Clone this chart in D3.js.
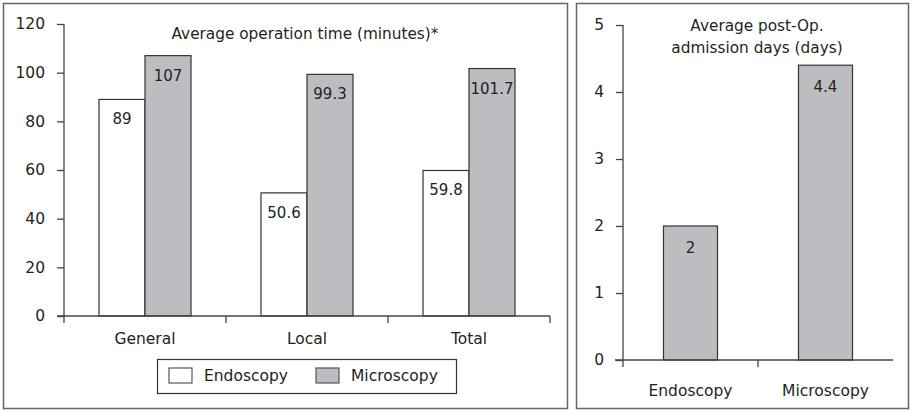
<!DOCTYPE html>
<html lang="en">
<head>
  <meta charset="UTF-8">
  <title>Operation time and admission days</title>
  <script src="https://d3js.org/d3.v7.min.js"></script>
  <style>
    body { margin: 0; background: #fff; }
    text { font-family: "DejaVu Sans", sans-serif; fill: #231f20; }
  </style>
</head>
<body>
<div id="chart"></div>
<script>
  // data
  const groups = ["General", "Local", "Total"];
  const series = ["Endoscopy", "Microscopy"];
  const endoTime = [89, 50.6, 59.8];
  const microTime = [107, 99.3, 101.7];
  const timeLabels = ["89", "50.6", "59.8"];
  const microTimeLabels = ["107", "99.3", "101.7"];
  const timeTicks = [0, 20, 40, 60, 80, 100, 120];

  const dayCats = ["Endoscopy", "Microscopy"];
  const days = [2, 4.4];
  const dayLabels = ["2", "4.4"];
  const dayTicks = [0, 1, 2, 3, 4, 5];

  const colors = { Endoscopy: "#ffffff", Microscopy: "#bcbdc0" };
  const stroke = "#333";

  const svg = d3.select("#chart").append("svg")
    .attr("width", 912).attr("height", 412);

  // panel frames
  svg.append("rect").attr("x", 3.5).attr("y", 3.5).attr("width", 564).attr("height", 405)
    .attr("fill", "none").attr("stroke", "#666").attr("stroke-width", 1.5);
  svg.append("rect").attr("x", 576.5).attr("y", 3.5).attr("width", 332).attr("height", 405)
    .attr("fill", "none").attr("stroke", "#666").attr("stroke-width", 1.5);

  function styleAxis(g) {
    g.selectAll(".domain").attr("stroke", "#444").attr("stroke-width", 1.3);
    g.selectAll(".tick line").attr("stroke", "#444").attr("stroke-width", 1.3);
    g.selectAll(".tick text").style("font-size", "15.5px").attr("fill", "#231f20");
  }

  // ---- left chart ----
  const left = svg.append("g");
  const x0 = d3.scaleBand().domain(groups).range([64, 550]).paddingInner(0).paddingOuter(0);
  const x1 = d3.scaleBand().domain(series).range([35, x0.bandwidth() - 35]);
  const y = d3.scaleLinear().domain([0, 120]).range([316, 24]);

  const rows = groups.map((g, i) => ({ g, i, vals: [endoTime[i], microTime[i]] }));

  const grp = left.selectAll(".grp").data(rows).enter().append("g")
    .attr("transform", d => `translate(${x0(d.g)},0)`);

  grp.selectAll("rect").data(d => series.map((s, j) => ({ s, v: d.vals[j], i: d.i })))
    .enter().append("rect")
    .attr("x", d => x1(d.s)).attr("y", d => y(d.v))
    .attr("width", x1.bandwidth()).attr("height", d => y(0) - y(d.v))
    .attr("fill", d => colors[d.s]).attr("stroke", stroke).attr("stroke-width", 1.2);

  grp.selectAll(".val").data(d => series.map((s, j) => ({ s, v: d.vals[j], i: d.i })))
    .enter().append("text")
    .attr("x", d => x1(d.s) + x1.bandwidth() / 2)
    .attr("y", d => y(d.v) + 25)
    .attr("text-anchor", "middle").style("font-size", "15px")
    .text(d => d.s === "Endoscopy" ? timeLabels[d.i] : microTimeLabels[d.i]);

  const yAxisL = left.append("g").attr("transform", "translate(64,0)")
    .call(d3.axisLeft(y).tickValues(timeTicks).tickSize(7).tickPadding(12));
  styleAxis(yAxisL);
  yAxisL.select(".domain").attr("d", "M0,24V323");

  const xAxisL = left.append("g").attr("transform", "translate(0,316)")
    .call(d3.axisBottom(x0).tickSize(0).tickPadding(14));
  styleAxis(xAxisL);
  xAxisL.selectAll(".tick text").attr("dy", "0.9em");
  xAxisL.select(".domain").attr("d", "M57,0H550");
  // category separators
  xAxisL.selectAll(".sep").data(groups.slice(1).concat(["end"])).enter().append("line")
    .attr("x1", (d, i) => i < 2 ? x0(d) : x0.range()[1])
    .attr("x2", (d, i) => i < 2 ? x0(d) : x0.range()[1])
    .attr("y1", 0).attr("y2", 7).attr("stroke", "#444").attr("stroke-width", 1.3);

  left.append("text").attr("x", 305).attr("y", 39).attr("text-anchor", "middle")
    .style("font-size", "15.3px").text("Average operation time (minutes)*");

  // legend
  const leg = left.append("g");
  leg.append("rect").attr("x", 157.5).attr("y", 359.5).attr("width", 299).attr("height", 34)
    .attr("fill", "#fff").attr("stroke", "#333").attr("stroke-width", 1.2);
  const legX = [169, 316];
  series.forEach((s, i) => {
    leg.append("rect").attr("x", legX[i]).attr("y", 368).attr("width", 23).attr("height", 15)
      .attr("fill", colors[s]).attr("stroke", "#555").attr("stroke-width", 1.2);
    leg.append("text").attr("x", legX[i] + 35).attr("y", 381).style("font-size", "15.5px").text(s);
  });

  // ---- right chart ----
  const right = svg.append("g");
  const xr = d3.scaleBand().domain(dayCats).range([623, 893]).paddingInner(0.6).paddingOuter(0.3);
  const yr = d3.scaleLinear().domain([0, 5]).range([360, 25]);

  right.selectAll(".bar").data(dayCats).enter().append("rect")
    .attr("x", d => xr(d)).attr("y", (d, i) => yr(days[i]))
    .attr("width", xr.bandwidth()).attr("height", (d, i) => yr(0) - yr(days[i]))
    .attr("fill", colors.Microscopy).attr("stroke", stroke).attr("stroke-width", 1.2);

  right.selectAll(".val").data(dayCats).enter().append("text")
    .attr("x", d => xr(d) + xr.bandwidth() / 2).attr("y", (d, i) => yr(days[i]) + 27)
    .attr("text-anchor", "middle").style("font-size", "15px")
    .text((d, i) => dayLabels[i]);

  const yAxisR = right.append("g").attr("transform", "translate(623,0)")
    .call(d3.axisLeft(yr).tickValues(dayTicks).tickFormat(d3.format("d")).tickSize(7).tickPadding(12));
  styleAxis(yAxisR);
  yAxisR.select(".domain").attr("d", "M0,25V367");

  const xAxisR = right.append("g").attr("transform", "translate(0,360)")
    .call(d3.axisBottom(xr).tickSize(0).tickPadding(22));
  styleAxis(xAxisR);
  xAxisR.selectAll(".tick text").attr("dy", "0.9em");
  xAxisR.select(".domain").attr("d", "M615,0H893");
  xAxisR.append("line").attr("x1", 758).attr("x2", 758).attr("y1", 0).attr("y2", 7)
    .attr("stroke", "#444").attr("stroke-width", 1.3);

  const rt = right.append("text").attr("x", 757).attr("text-anchor", "middle").style("font-size", "15.3px");
  rt.append("tspan").attr("x", 757).attr("y", 31).text("Average post-Op.");
  rt.append("tspan").attr("x", 757).attr("y", 53).text("admission days (days)");
</script>
</body>
</html>
